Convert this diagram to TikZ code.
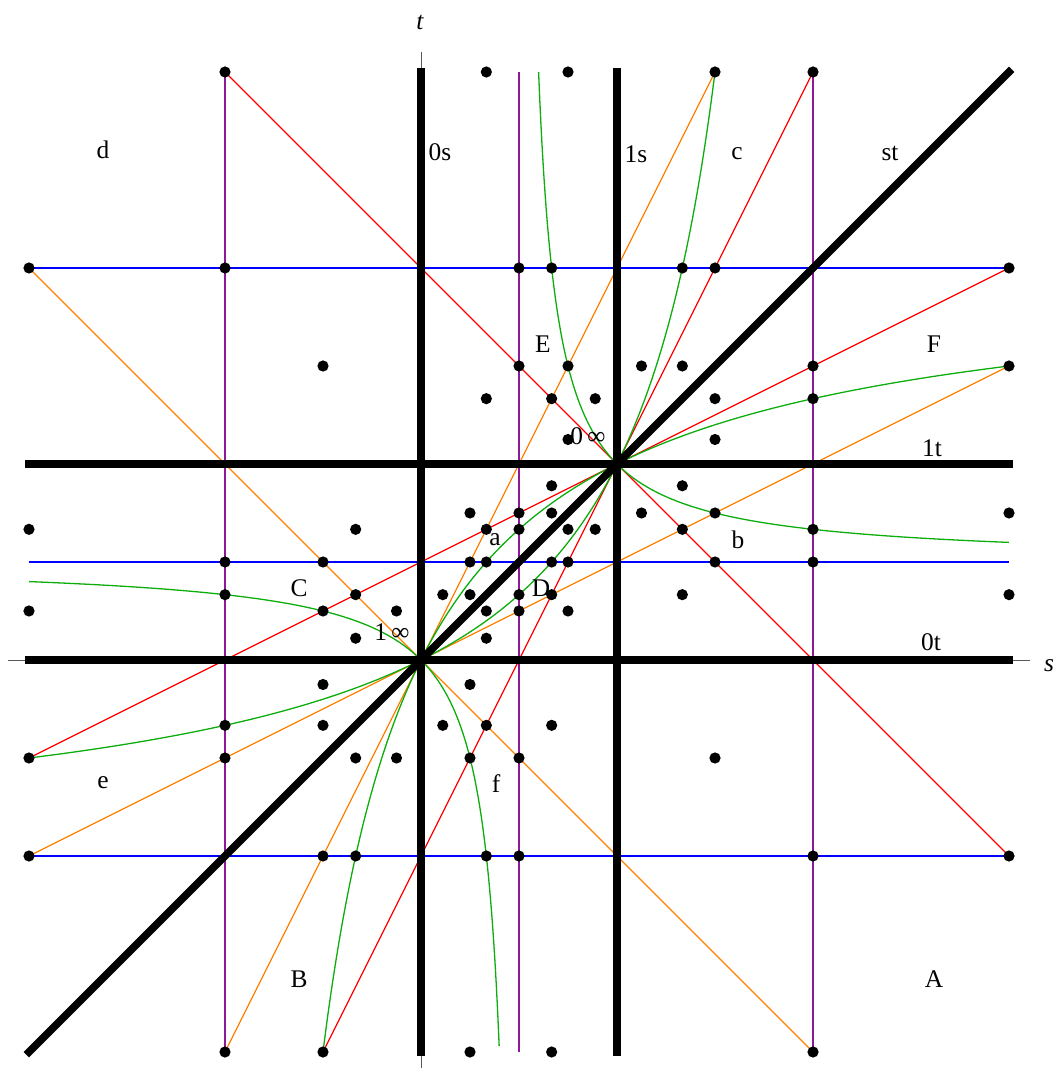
\documentclass[tikz,border=0pt]{standalone}
\usepackage{fontspec}
\setmainfont{Liberation Serif}
\definecolor{mred}{rgb}{1,0,0}
\definecolor{morange}{rgb}{1,0.5,0}
\definecolor{mblue}{rgb}{0,0,1}
\definecolor{mpurple}{rgb}{0.55,0.1,0.6}
\definecolor{mgreen}{rgb}{0.05,0.68,0.05}
\begin{document}
\begin{tikzpicture}[x=196bp,y=196bp,
  cl/.style={line width=1.3bp},
  heavy/.style={line width=7.5bp, line cap=rect},
  axisline/.style={line width=1bp, draw=black!65},
  lbl/.style={font=\fontsize{25.5}{30}\selectfont, inner sep=0pt},
  dotfill/.style={fill=black}]
\useasboundingbox (-2.14796,-2.08163) rectangle (3.25,3.36735);
% axes
\draw[axisline] (-2.107,0) -- (3.107,0);
\draw[axisline] (0,-2.2) -- (0,3.102);
\node[lbl, font=\fontsize{25.5}{30}\selectfont\itshape] (tlab) at (-0.005,3.255) {t};
\node[lbl, font=\fontsize{25.5}{30}\selectfont\itshape] (slab) at (3.205,-0.03) {s};
% blue
\foreach \y in {2,0.5,-1} \draw[cl, mblue] (-2,\y) -- (3,\y);
% purple
\foreach \x in {-1,0.5,2} \draw[cl, mpurple] (\x,-2) -- (\x,3);
% red
\draw[cl, mred] (-1,3) -- (3,-1);
\draw[cl, mred] (-0.5,-2) -- (2,3);
\draw[cl, mred] (-2,-0.5) -- (3,2);
% orange
\draw[cl, morange] (-2,2) -- (2,-2);
\draw[cl, morange] (-1,-2) -- (1.5,3);
\draw[cl, morange] (-2,-1) -- (3,1.5);
% green
\draw[cl, mgreen] plot[domain=0.6:3, samples=400, smooth] (\x,{\x/(2*\x-1)});
\draw[cl, mgreen] plot[domain=-2:0.4, samples=400, smooth] (\x,{\x/(2*\x-1)});
\draw[cl, mgreen] plot[domain=-2:1.5, samples=300, smooth] (\x,{\x/(2-\x)});
\draw[cl, mgreen] plot[domain=-0.5:3, samples=300, smooth] (\x,{2*\x/(1+\x)});
% thick
\draw[heavy] (0,-2) -- (0,3);
\draw[heavy] (1,-2) -- (1,3);
\draw[heavy] (-2,0) -- (3,0);
\draw[heavy] (-2,1) -- (3,1);
\draw[heavy] (-2,-2) -- (3,3);
% dots
\foreach \p in {
 (-1,3),(1/3,3),(3/4,3),(3/2,3),(2,3),
 (-2,2),(-1,2),(1/2,2),(2/3,2),(4/3,2),(3/2,2),(3,2),
 (-1/2,3/2),(1/2,3/2),(3/4,3/2),(9/8,3/2),(4/3,3/2),(2,3/2),(3,3/2),
 (1/3,4/3),(2/3,4/3),(8/9,4/3),(3/2,4/3),(2,4/3),
 (3/4,9/8),(3/2,9/8),
 (2/3,8/9),(4/3,8/9),
 (1/4,3/4),(1/2,3/4),(2/3,3/4),(9/8,3/4),(3/2,3/4),(3,3/4),
 (-2,2/3),(-1/3,2/3),(1/3,2/3),(1/2,2/3),(3/4,2/3),(8/9,2/3),(4/3,2/3),(2,2/3),
 (-1,1/2),(-1/2,1/2),(1/4,1/2),(1/3,1/2),(2/3,1/2),(3/4,1/2),(3/2,1/2),(2,1/2),
 (-1,1/3),(-1/3,1/3),(1/9,1/3),(1/4,1/3),(1/2,1/3),(2/3,1/3),(4/3,1/3),(3,1/3),
 (-2,1/4),(-1/2,1/4),(-1/8,1/4),(1/3,1/4),(1/2,1/4),(3/4,1/4),
 (-1/3,1/9),(1/3,1/9),
 (-1/2,-1/8),(1/4,-1/8),
 (-1,-1/3),(-1/2,-1/3),(1/9,-1/3),(1/3,-1/3),(2/3,-1/3),
 (-2,-1/2),(-1,-1/2),(-1/3,-1/2),(-1/8,-1/2),(1/4,-1/2),(1/2,-1/2),(3/2,-1/2),
 (-2,-1),(-1/2,-1),(-1/3,-1),(1/3,-1),(1/2,-1),(2,-1),(3,-1),
 (-1,-2),(-1/2,-2),(1/4,-2),(2/3,-2),(2,-2),
 (0,0),(1,1)}
 \fill[dotfill] \p circle[radius=5.6bp];
% labels
\node[lbl] (ld) at (-1.622,2.602) {d};
\node[lbl] (l0s) at (0.097,2.592) {0s};
\node[lbl] (l1s) at (1.097,2.582) {1s};
\node[lbl] (lc) at (1.612,2.582) {c};
\node[lbl] (lst) at (2.393,2.582) {st};
\node[lbl] (lE) at (0.622,1.612) {E};
\node[lbl] (lF) at (2.617,1.612) {F};
\node[lbl] (l0i) at (0.852,1.143) {0\,∞};
\node[lbl] (l1t) at (2.607,1.082) {1t};
\node[lbl] (la) at (0.378,0.612) {a};
\node[lbl] (lb) at (1.617,0.612) {b};
\node[lbl] (lC) at (-0.622,0.367) {C};
\node[lbl] (lD) at (0.612,0.367) {D};
\node[lbl] (l1i) at (-0.148,0.143) {1\,∞};
\node[lbl] (l0t) at (2.602,0.092) {0t};
\node[lbl] (le) at (-1.622,-0.628) {e};
\node[lbl] (lf) at (0.383,-0.628) {f};
\node[lbl] (lB) at (-0.622,-1.628) {B};
\node[lbl] (lA) at (2.617,-1.628) {A};
\end{tikzpicture}
\end{document}
